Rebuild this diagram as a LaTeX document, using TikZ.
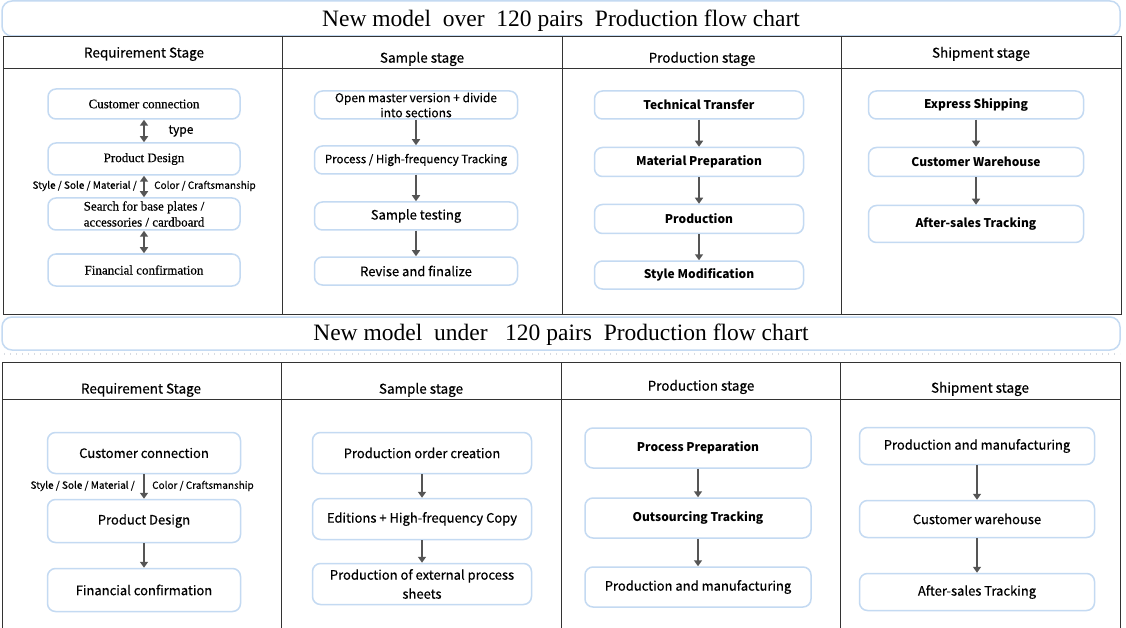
\documentclass[tikz,border=0pt]{standalone}
\usepackage{fontspec}
\setmainfont{Liberation Serif}
\newfontfamily\hs{Noto Sans CJK SC}
\newfontfamily\hsm{Noto Sans CJK SC}[FakeBold=0.45]
\newfontfamily\srm{Liberation Serif}[FakeBold=0.45]
\usetikzlibrary{arrows.meta}
\definecolor{boxblue}{HTML}{C4DAF2}
\definecolor{arrgray}{HTML}{555555}
\definecolor{linegray}{HTML}{333333}
\definecolor{dotgray}{HTML}{D8DCE2}
\begin{document}
\begin{tikzpicture}[x=1pt,y=-1pt,
  fbox/.style={draw=boxblue, line width=1.5pt, rounded corners=8pt, fill=white, inner sep=0pt, align=center, text=black},
  titlebar/.style={draw=boxblue, line width=1.5pt, rounded corners=10pt},
  tline/.style={draw=linegray, line width=1pt},
  arr/.style={draw=arrgray, line width=1.6pt, -{Triangle[length=6pt,width=8pt]}},
  darr/.style={draw=arrgray, line width=1.6pt, {Triangle[length=6pt,width=8pt]}-{Triangle[length=6pt,width=8pt]}},
  ttl/.style={font=\fontsize{23.5}{26}\selectfont},
  hdr/.style={font=\hsm\fontsize{13.5}{16}\selectfont},
  sf/.style={font=\hsm\fontsize{13}{19}\selectfont},
  sfs/.style={font=\hsm\fontsize{11.5}{15}\selectfont},
  sfb/.style={font=\hs\bfseries\fontsize{12}{15}\selectfont},
  srf/.style={font=\srm\fontsize{13}{16}\selectfont},
  lbl/.style={font=\hsm\fontsize{10}{12}\selectfont, inner sep=0pt},
  c1/.style={fbox, minimum width=192pt},
  c2/.style={fbox, minimum width=203pt},
  c3/.style={fbox, minimum width=209pt},
  c4/.style={fbox, minimum width=215pt},
  d1/.style={fbox, minimum width=193pt},
  d2/.style={fbox, minimum width=219pt},
  d3/.style={fbox, minimum width=226pt},
  d4/.style={fbox, minimum width=235pt}
]
\useasboundingbox (0,0) rectangle (1126,628);
\fill[white] (0,0) rectangle (1126,628);

% ---------- Title bar 1 ----------
\draw[titlebar] (2,1) rectangle (1120,36);
\node[ttl] (title1) at (561,21) {New model\ \ over\ \ 120 pairs\ \ Production flow chart};

% ---------- Table 1 ----------
\draw[tline] (3,37) rectangle (1121,314);
\draw[tline] (3,69) -- (1121,69);
\draw[tline] (282,37) -- (282,314);
\draw[tline] (562,37) -- (562,314);
\draw[tline] (841,37) -- (841,314);
\node[hdr] (h1a) at (144,54) {Requirement Stage};
\node[hdr] (h1b) at (422,59) {Sample stage};
\node[hdr] (h1c) at (702,59) {Production stage};
\node[hdr] (h1d) at (981,54) {Shipment stage};

% column 1
\node[c1, srf, minimum height=30pt] (a1) at (144,104) {Customer connection};
\node[c1, srf, minimum height=32pt] (a2) at (144,159) {Product Design};
\node[c1, srf, minimum height=32pt] (a3) at (144,214) {Search for base plates /\\accessories / cardboard};
\node[c1, srf, minimum height=32pt] (a4) at (144,270) {Financial confirmation};
\draw[darr] (a1.south) -- (a2.north);
\draw[darr] (a2.south) -- (a3.north);
\draw[darr] (a3.south) -- (a4.north);
\node[font=\hsm\fontsize{12}{14}\selectfont] (ty) at (181,131) {type};
\node[lbl, anchor=east] (l1a) at (137,186) {Style / Sole / Material /};
\node[lbl, anchor=west] (l1b) at (154,186) {Color / Craftsmanship};

% column 2
\node[c2, font=\hsm\fontsize{12}{15}\selectfont, minimum height=28pt] (b1) at (416,105) {Open master version + divide\\into sections};
\node[c2, sfs, minimum height=28pt] (b2) at (416,160) {Process / High-frequency Tracking};
\node[c2, sf, minimum height=28pt] (b3) at (416,216) {Sample testing};
\node[c2, sf, minimum height=28pt] (b4) at (416,271) {Revise and finalize};
\draw[arr] (b1.south) -- (b2.north);
\draw[arr] (b2.south) -- (b3.north);
\draw[arr] (b3.south) -- (b4.north);

% column 3
\node[c3, sfb, minimum height=28pt] (p1) at (699,105) {Technical Transfer};
\node[c3, sfb, minimum height=29pt] (p2) at (699,162) {Material Preparation};
\node[c3, sfb, minimum height=29pt] (p3) at (699,219) {Production};
\node[c3, sfb, minimum height=28pt] (p4) at (699,275) {Style Modification};
\draw[arr] (p1.south) -- (p2.north);
\draw[arr] (p2.south) -- (p3.north);
\draw[arr] (p3.south) -- (p4.north);

% column 4
\node[c4, sfb, minimum height=28pt] (s1) at (976,105) {Express Shipping};
\node[c4, sfb, minimum height=29pt] (s2) at (976,162) {Customer Warehouse};
\node[c4, sfb, minimum height=37pt] (s3) at (976,224) {After-sales Tracking};
\draw[arr] (s1.south) -- (s2.north);
\draw[arr] (s2.south) -- (s3.north);

% ---------- Title bar 2 ----------
\draw[titlebar] (2,317) rectangle (1120,350);
\node[ttl] (title2) at (561,335) {New model\ \ under\ \ \ 120 pairs\ \ Production flow chart};
\draw[dotgray, line width=2pt, dash pattern=on 1pt off 5pt] (4,354) -- (1120,354);

% ---------- Table 2 ----------
\draw[tline] (2,640) -- (2,362) -- (1120,362) -- (1120,640);
\draw[tline] (2,399) -- (1120,399);
\draw[tline] (281,362) -- (281,640);
\draw[tline] (561,362) -- (561,640);
\draw[tline] (840,362) -- (840,640);
\node[hdr] (h2a) at (141,390) {Requirement Stage};
\node[hdr] (h2b) at (421,390) {Sample stage};
\node[hdr] (h2c) at (701,387) {Production stage};
\node[hdr] (h2d) at (980,389) {Shipment stage};

% column 1
\node[d1, sf, minimum height=41pt] (e1) at (144,453) {Customer connection};
\node[d1, sf, minimum height=43pt] (e2) at (144,521) {Product Design};
\node[d1, sf, minimum height=43pt] (e3) at (144,590) {Financial confirmation};
\draw[arr] (e1.south) -- (e2.north);
\draw[arr] (e2.south) -- (e3.north);
\node[lbl, anchor=east] (l2a) at (135,486) {Style / Sole / Material /};
\node[lbl, anchor=west] (l2b) at (152,486) {Color / Craftsmanship};

% column 2
\node[d2, sf, minimum height=41pt] (f1) at (422,453) {Production order creation};
\node[d2, sf, minimum height=41pt] (f2) at (422,519) {Editions + High-frequency Copy};
\node[d2, sf, minimum height=41pt] (f3) at (422,584) {Production of external process\\sheets};
\draw[arr] (f1.south) -- (f2.north);
\draw[arr] (f2.south) -- (f3.north);

% column 3
\node[d3, sfb, minimum height=40pt] (g1) at (698,448) {Process Preparation};
\node[d3, sfb, minimum height=40pt] (g2) at (698,518) {Outsourcing Tracking};
\node[d3, sf, minimum height=40pt] (g3) at (698,587) {Production and manufacturing};
\draw[arr] (g1.south) -- (g2.north);
\draw[arr] (g2.south) -- (g3.north);

% column 4
\node[d4, sf, minimum height=37pt] (k1) at (977,446) {Production and manufacturing};
\node[d4, sf, minimum height=37pt] (k2) at (977,519) {Customer warehouse};
\node[d4, sf, minimum height=37pt] (k3) at (977,592) {After-sales Tracking};
\draw[arr] (k1.south) -- (k2.north);
\draw[arr] (k2.south) -- (k3.north);
\end{tikzpicture}
\end{document}
